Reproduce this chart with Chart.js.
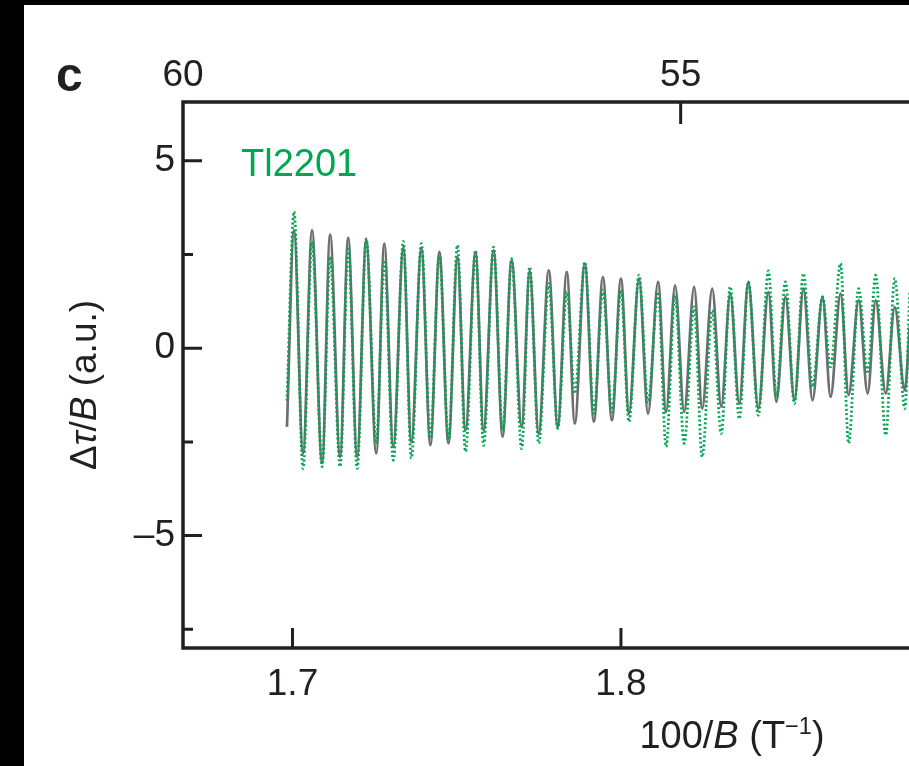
<!DOCTYPE html>
<html>
<head>
<meta charset="utf-8">
<script src="https://cdn.jsdelivr.net/npm/chart.js@4.4.0/dist/chart.umd.min.js"></script>
<style>
  html, body { margin: 0; padding: 0; background: #000; }
  #wrap { position: absolute; left: 24px; top: 5px; width: 885px; height: 761px; background: #fff; }
</style>
</head>
<body>
<div id="wrap"><canvas id="chart-osc"></canvas></div>
<script>
// data (extrema of the oscillations, 100/B in T^-1)
var invB = [
  1.69832, 1.70046, 1.70321, 1.70595, 1.70901, 1.71145, 1.71450, 1.71695, 1.71969, 1.72244,
  1.72550, 1.72794, 1.73069, 1.73374, 1.73618, 1.73924, 1.74198, 1.74473, 1.74748, 1.75023,
  1.75267, 1.75573, 1.75817, 1.76122, 1.76397, 1.76672, 1.76977, 1.77221, 1.77496, 1.77802,
  1.78076, 1.78351, 1.78595, 1.78901, 1.79176, 1.79450, 1.79725, 1.80000, 1.80244, 1.80550,
  1.80824, 1.81130, 1.81374, 1.81649, 1.81924, 1.82229, 1.82473, 1.82779, 1.83053, 1.83328,
  1.83603, 1.83878, 1.84183, 1.84489, 1.84733, 1.85008, 1.85282, 1.85557, 1.85832, 1.86137,
  1.86382, 1.86687, 1.86931, 1.87237, 1.87511, 1.87756, 1.88061, 1.88336, 1.88641, 1.88794
];
// grey solid curve
var fitVals = [
  -2.10, 3.15, -2.81, 3.15, -3.07, 3.04, -2.90, 2.95, -2.90, 2.90,
  -2.81, 2.79, -2.63, 2.68, -2.50, 2.66, -2.59, 2.57, -2.54, 2.44,
  -2.19, 2.57, -2.19, 2.61, -2.36, 2.35, -2.10, 2.06, -2.28, 2.08,
  -2.10, 2.04, -2.01, 2.26, -1.96, 1.90, -1.92, 1.86, -1.74, 1.86,
  -1.75, 1.77, -1.70, 1.68, -1.70, 1.64, -1.61, 1.59, -1.56, 1.46,
  -1.48, 1.77, -1.61, 1.50, -1.43, 1.37, -1.39, 1.59, -1.39, 1.37,
  -1.30, 1.46, -1.25, 1.28, -1.21, 1.28, -1.21, 1.10, -1.12, 0.60
];
// green dotted data (Tl2201)
var tlVals = [
  -1.40, 3.64, -3.21, 2.84, -3.16, 2.44, -3.16, 2.70, -3.21, 2.92,
  -2.54, 2.35, -2.99, 2.85, -2.94, 2.79, -2.41, 2.48, -2.45, 2.75,
  -2.76, 2.61, -2.59, 2.70, -2.19, 2.39, -2.68, 2.17, -2.54, 1.72,
  -2.14, 1.50, -1.21, 2.30, -1.74, 1.55, -1.70, 1.55, -1.96, 1.95,
  -1.45, 1.50, -2.63, 1.41, -2.54, 1.10, -2.90, 1.01, -2.28, 1.64,
  -1.88, 1.77, -1.79, 2.06, -1.30, 1.77, -1.48, 1.99, -1.03, 1.37,
  -0.50, 2.26, -2.54, 1.59, -0.68, 1.95, -2.32, 1.86, -1.61, 1.50
];

var xTicks = [1.7, 1.8];
var topFieldTicks = [60, 55];   // B in tesla on the top axis
var yTicks = [5, 0, -5];
var yMinorTicks = [2.5, -2.5, -7.5];

var ink = "#231f20";
var grey = "#6d6e71";
var green = "#00a651";
var fam = "'Liberation Sans', Arial, Helvetica, sans-serif";

function pts(vals) {
  return invB.map(function (x, i) { return { x: x, y: vals[i] }; });
}

// draw a string made of plain / italic / superscript runs
function drawRuns(ctx, runs, x, y, size) {
  var w = 0;
  runs.forEach(function (r) {
    var s = r.sup ? size * 0.62 : size;
    ctx.font = (r.italic ? "italic " : "") + s + "px " + fam;
    r.w = ctx.measureText(r.t).width;
    w += r.w;
  });
  var cx = x - w / 2;
  runs.forEach(function (r) {
    var s = r.sup ? size * 0.62 : size;
    ctx.font = (r.italic ? "italic " : "") + s + "px " + fam;
    ctx.fillText(r.t, cx, r.sup ? y - size * 0.38 : y);
    cx += r.w;
  });
}

var frame = {
  id: "frame",
  afterDraw: function (chart) {
    var ctx = chart.ctx, a = chart.chartArea;
    var x = chart.scales.x, xt = chart.scales.xTop, y = chart.scales.y;
    ctx.save();
    ctx.strokeStyle = ink;
    ctx.lineWidth = 3.5;
    ctx.beginPath();
    ctx.moveTo(chart.width, a.top);
    ctx.lineTo(a.left, a.top);
    ctx.lineTo(a.left, a.bottom);
    ctx.lineTo(chart.width, a.bottom);
    ctx.stroke();

    // inward ticks
    ctx.lineWidth = 3;
    ctx.beginPath();
    yTicks.forEach(function (v) {
      var py = y.getPixelForValue(v);
      ctx.moveTo(a.left, py); ctx.lineTo(a.left + 19, py);
    });
    yMinorTicks.forEach(function (v) {
      var py = y.getPixelForValue(v);
      ctx.moveTo(a.left, py); ctx.lineTo(a.left + 10, py);
    });
    xTicks.forEach(function (v) {
      var px = x.getPixelForValue(v);
      ctx.moveTo(px, a.bottom); ctx.lineTo(px, a.bottom - 20);
    });
    topFieldTicks.forEach(function (b) {
      var px = xt.getPixelForValue(100 / b);
      if (px > a.left + 2) { ctx.moveTo(px, a.top); ctx.lineTo(px, a.top + 22); }
    });
    ctx.stroke();

    // texts
    ctx.fillStyle = ink;
    ctx.textBaseline = "alphabetic";
    ctx.textAlign = "left";
    ctx.font = "bold 48px " + fam;
    ctx.fillText("c", 32, 86);

    ctx.fillStyle = green;
    ctx.font = "38px " + fam;
    ctx.fillText("Tl2201", a.left + 58, 171);

    ctx.fillStyle = ink;
    drawRuns(ctx, [
      { t: "100/" }, { t: "B", italic: true }, { t: " (T" }, { t: "\u22121", sup: true }, { t: ")" }
    ], 708, 743, 38);

    ctx.translate(72, (a.top + a.bottom) / 2 + 10);
    ctx.rotate(-Math.PI / 2);
    drawRuns(ctx, [
      { t: "\u0394" }, { t: "\u03c4", italic: true }, { t: "/" }, { t: "B", italic: true }, { t: " (a.u.)" }
    ], 0, 0, 37);
    ctx.restore();
  }
};

var tickFont = { family: fam, size: 37 };
var xMin = 100 / 60, xMax = 1.8877;

new Chart(document.getElementById("chart-osc"), {
  type: "line",
  data: {
    datasets: [
      {
        label: "Tl2201",
        data: pts(tlVals),
        borderColor: green,
        borderWidth: 2.8,
        borderDash: [2, 2.4],
        pointRadius: 0,
        cubicInterpolationMode: "monotone",
        fill: false,
      },
      {
        label: "fit",
        data: pts(fitVals),
        borderColor: grey,
        borderWidth: 2.7,
        pointRadius: 0,
        cubicInterpolationMode: "monotone",
        fill: false,
      },
    ],
  },
  options: {
    responsive: true,
    maintainAspectRatio: false,
    animation: false,
    layout: { padding: 0 },
    plugins: { legend: { display: false }, tooltip: { enabled: false } },
    scales: {
      x: {
        type: "linear",
        position: "bottom",
        min: xMin,
        max: xMax,
        afterBuildTicks: function (s) { s.ticks = xTicks.map(function (v) { return { value: v }; }); },
        afterFit: function (s) { s.height = 118; },
        grid: { display: false, drawTicks: false },
        border: { display: false },
        ticks: {
          color: ink, font: tickFont, padding: 15, maxRotation: 0, autoSkip: false,
          callback: function (v) { return v.toFixed(1); },
        },
      },
      xTop: {
        type: "linear",
        position: "top",
        min: xMin,
        max: xMax,
        afterBuildTicks: function (s) { s.ticks = topFieldTicks.map(function (b) { return { value: 100 / b }; }); },
        afterFit: function (s) { s.height = 97; },
        grid: { display: false, drawTicks: false },
        border: { display: false },
        ticks: {
          color: ink, font: tickFont, padding: 4, maxRotation: 0, autoSkip: false,
          callback: function (v) { return String(Math.round(100 / v)); },
        },
      },
      y: {
        min: -8,
        max: 6.57,
        afterBuildTicks: function (s) { s.ticks = yTicks.map(function (v) { return { value: v }; }); },
        afterFit: function (s) { s.width = 159; },
        grid: { display: false, drawTicks: false },
        border: { display: false },
        ticks: {
          color: ink, font: tickFont, padding: 8,
          callback: function (v) { return v < 0 ? "\u2013" + Math.abs(v) : String(v); },
        },
      },
    },
  },
  plugins: [frame],
});
</script>
</body>
</html>
